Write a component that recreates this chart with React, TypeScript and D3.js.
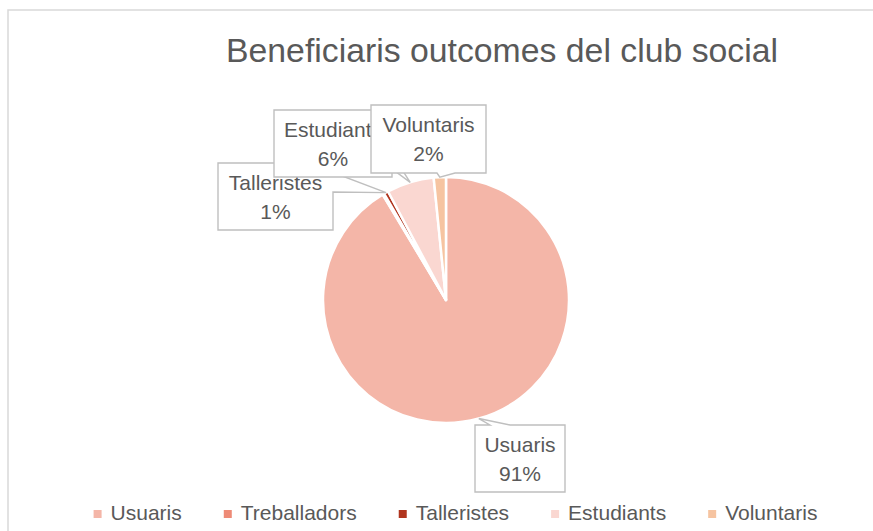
import React, { useRef, useEffect } from 'react';
import * as d3 from 'd3';

// values (share of total, %)
const categories = ['Usuaris', 'Treballadors', 'Talleristes', 'Estudiants', 'Voluntaris'];
const shares = [91.4, 0.2, 0.6, 6.2, 1.6];
const colors = ['#F4B6A8', '#EE8B77', '#B0351E', '#FAD7D1', '#F6C4A1'];
const labelled = ['Usuaris', 'Talleristes', 'Estudiants', 'Voluntaris'];
const title = 'Beneficiaris outcomes del club social';

const W = 873;
const H = 531;
const FONT = '"Liberation Sans", Arial, sans-serif';
const TEXT = '#595959';

// callout boxes placed the way the label layout put them
const callouts = {
    Usuaris: {
        box: { x: 475, y: 425, w: 90, h: 67 },
        outline: (b, t) => [[b.x, b.y], [490, b.y], t, [510, b.y], [b.x + b.w, b.y], [b.x + b.w, b.y + b.h], [b.x, b.y + b.h]]
    },
    Talleristes: {
        box: { x: 218, y: 163, w: 115, h: 67 },
        outline: (b, t) => [[b.x, b.y], [308, b.y], t, [b.x + b.w, 192], [b.x + b.w, b.y + b.h], [b.x, b.y + b.h]]
    },
    Estudiants: {
        box: { x: 274, y: 110, w: 118, h: 67 },
        outline: (b, t) => [[b.x, b.y], [b.x + b.w, b.y], [b.x + b.w, 154], t, [b.x + b.w, 169], [b.x + b.w, b.y + b.h], [b.x, b.y + b.h]]
    },
    Voluntaris: {
        box: { x: 371, y: 105, w: 115, h: 68 },
        outline: (b, t) => [[b.x, b.y], [b.x + b.w, b.y], [b.x + b.w, b.y + b.h], [455, b.y + b.h], t, [437, b.y + b.h], [b.x, b.y + b.h]]
    }
};

function drawChart(node) {
    const svg = d3.select(node);
    svg.selectAll('*').remove();

    // chart area frame
    svg.append('rect')
        .attr('x', 8).attr('y', 10)
        .attr('width', W + 40).attr('height', H + 40)
        .attr('fill', '#fff')
        .attr('stroke', '#D9D9D9')
        .attr('stroke-width', 1.5);

    svg.append('text')
        .attr('x', 502)
        .attr('y', 62)
        .attr('text-anchor', 'middle')
        .attr('font-family', FONT)
        .attr('font-size', 33)
        .attr('fill', TEXT)
        .attr('textLength', 552)
        .attr('lengthAdjust', 'spacingAndGlyphs')
        .text(title);

    const cx = 446, cy = 300, R = 123;
    const pie = d3.pie().sort(null).value(d => d);
    const arcs = pie(shares);
    const arc = d3.arc().innerRadius(0).outerRadius(R);
    const rim = d3.arc().innerRadius(R).outerRadius(R);

    const g = svg.append('g').attr('transform', `translate(${cx},${cy})`);
    g.selectAll('path.slice')
        .data(arcs)
        .join('path')
        .attr('class', 'slice')
        .attr('d', arc)
        .attr('fill', (d, i) => colors[i])
        .attr('stroke', '#fff')
        .attr('stroke-width', 2.5)
        .attr('stroke-linejoin', 'round');

    const line = d3.line();
    categories.forEach((name, i) => {
        if (!labelled.includes(name)) return;
        const c = callouts[name];
        const [tx, ty] = rim.centroid(arcs[i]);
        const tip = [cx + tx, cy + ty];
        const b = c.box;

        svg.append('path')
            .attr('d', line(c.outline(b, tip)) + 'Z')
            .attr('fill', '#fff')
            .attr('stroke', '#BFBFBF')
            .attr('stroke-width', 1.4);

        const pct = Math.round(shares[i]) + '%';
        [name, pct].forEach((t, k) => {
            svg.append('text')
                .attr('x', b.x + b.w / 2)
                .attr('y', b.y + 27 + k * 29)
                .attr('text-anchor', 'middle')
                .attr('font-family', FONT)
                .attr('font-size', 21)
                .attr('fill', TEXT)
                .text(t);
        });
    });

    // legend, centred under the plot
    const legend = svg.append('g');
    const items = categories.map((name, i) => {
        const it = legend.append('g');
        it.append('rect')
            .attr('width', 8).attr('height', 8)
            .attr('y', 510)
            .attr('fill', colors[i]);
        const txt = it.append('text')
            .attr('x', 17)
            .attr('y', 520)
            .attr('font-family', FONT)
            .attr('font-size', 21)
            .attr('fill', TEXT)
            .text(name);
        return { it, w: 17 + txt.node().getComputedTextLength() };
    });
    const gap = 42;
    const total = d3.sum(items, d => d.w) + gap * (items.length - 1);
    let x = 455.5 - total / 2;
    items.forEach(d => {
        d.it.attr('transform', `translate(${x},0)`);
        x += d.w + gap;
    });
}

const App = () => {
    const ref = useRef(null);

    useEffect(() => {
        if (ref.current) drawChart(ref.current);
    }, []);

    return (
        <svg
            ref={ref}
            width={W}
            height={H}
            style={{ position: 'fixed', left: 0, top: 0, display: 'block', background: '#fff' }}
        />
    );
};

export default App;
